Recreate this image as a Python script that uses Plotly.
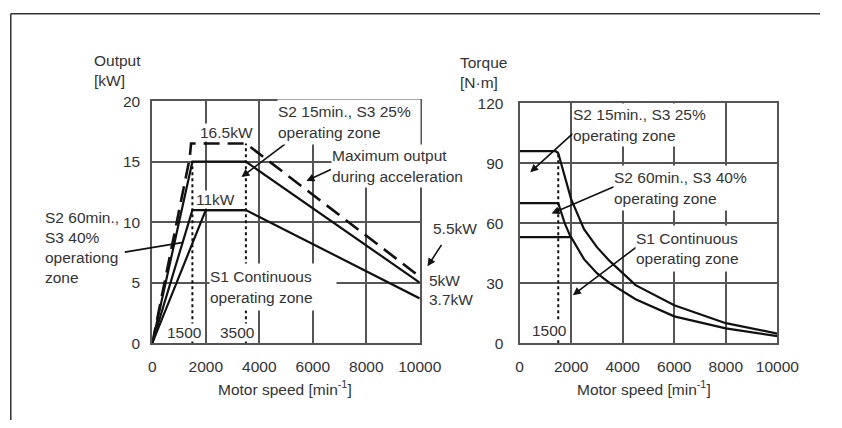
import plotly.graph_objects as go

# ---------------- data ----------------
# Left: output [kW] vs motor speed [min^-1]
max_speed = [0, 1400, 1450, 3500, 10000]
max_output = [0, 15.3, 16.5, 16.5, 5.5]          # Maximum output during acceleration (dashed)
s2_15_speed = [0, 1500, 3500, 10000]
s2_15_output = [0, 15, 15, 5]                    # S2 15min, S3 25%
s2_60_speed = [0, 1500, 3500]
s2_60_output = [0, 11, 11]                       # S2 60min, S3 40%
s1_speed = [0, 2000, 3500, 10000]
s1_output = [0, 11, 11, 3.7]                     # S1 continuous
mark1_speed = [1500, 1500]
mark1_output = [0, 15]
mark2_speed = [3500, 3500]
mark2_output = [0, 16.5]

# Right: torque [N·m] vs motor speed
t15_speed = [0, 1400, 1500, 2000, 2500, 3000, 3500, 4500, 6000, 8000, 10000]
t15_torque = [96, 96, 95, 72, 57, 48, 41, 29, 19, 10, 4.8]
t60_speed = [0, 1500, 1750, 2000]
t60_torque = [70, 70, 60, 52.5]
ts1_speed = [0, 2000, 2500, 3000, 3500, 4500, 6000, 8000, 10000]
ts1_torque = [53, 53, 42, 35, 30, 22, 13.4, 7.4, 3.5]
tmark_speed = [1500, 1500]
tmark_torque = [0, 96]

x_ticks = [0, 2000, 4000, 6000, 8000, 10000]
x_tick_labels = ["0", "2000", "4000", "6000", "8000", "10000"]
y_ticks_left = [0, 5, 10, 15, 20]
y_ticks_right = [0, 30, 60, 90, 120]

# ---------------- figure ----------------
W, H = 842, 428
def px(x): return x / W
def py(y): return 1 - y / H

FONT = "Liberation Sans, Arial, sans-serif"
FS = 15.5
TXT = "#333333"
LINE = "#111111"
GRID = "#555555"

fig = go.Figure()

def add(x, y, xa, ya, dash="solid", width=2.2):
    fig.add_trace(go.Scatter(x=x, y=y, mode="lines", xaxis=xa, yaxis=ya,
                             line=dict(color=LINE, width=width, dash=dash),
                             hoverinfo="skip", showlegend=False))

add(max_speed, max_output, "x", "y", dash="16px,8px", width=2.6)
add(s2_15_speed, s2_15_output, "x", "y")
add(s2_60_speed, s2_60_output, "x", "y")
add(s1_speed, s1_output, "x", "y")
add(mark1_speed, mark1_output, "x", "y", dash="dot", width=2)
add(mark2_speed, mark2_output, "x", "y", dash="dot", width=2)

add(t15_speed, t15_torque, "x2", "y2")
add(t60_speed, t60_torque, "x2", "y2")
add(ts1_speed, ts1_torque, "x2", "y2")
add(tmark_speed, tmark_torque, "x2", "y2", dash="dot", width=2)

axis_common = dict(showline=True, mirror=True, linecolor=GRID, linewidth=2,
                   showgrid=True, gridcolor=GRID, gridwidth=1.8, zeroline=False,
                   ticks="outside", tickcolor="rgba(0,0,0,0)",
                   tickfont=dict(family=FONT, size=FS, color=TXT), fixedrange=True)

fig.update_layout(
    width=W, height=H, margin=dict(l=0, r=0, t=0, b=0),
    paper_bgcolor="white", plot_bgcolor="white", showlegend=False,
    xaxis=dict(domain=[px(153), px(429)], range=[0, 10000], tickvals=x_ticks,
               ticktext=x_tick_labels, ticklen=8, anchor="y", **axis_common),
    yaxis=dict(domain=[py(348), py(96)], range=[0, 20], tickvals=y_ticks_left,
               ticklen=7, anchor="x", **axis_common),
    xaxis2=dict(domain=[px(532), px(798)], range=[0, 10000], tickvals=x_ticks,
                ticktext=x_tick_labels, ticklen=8, anchor="y2", **axis_common),
    yaxis2=dict(domain=[py(348), py(98)], range=[0, 120], tickvals=y_ticks_right,
                ticklen=11, anchor="x2", **axis_common),
)

# outer frame (top and left edges visible)
fig.add_shape(type="line", xref="paper", yref="paper", x0=px(7), x1=1, y0=py(5), y1=py(5),
              line=dict(color="#333333", width=1.5))
fig.add_shape(type="line", xref="paper", yref="paper", x0=px(7), x1=px(7), y0=0, y1=py(5),
              line=dict(color="#333333", width=1.5))

def text(x, y, s, anchor="left", bg="white", w=None, h=None):
    kw = {}
    if w is not None:
        kw["width"] = w
    if h is not None:
        kw["height"] = h
    fig.add_annotation(x=px(x), y=py(y), xref="paper", yref="paper", text=s, showarrow=False,
                       xanchor=anchor, yanchor="middle", align="left", valign="middle",
                       font=dict(family=FONT, size=FS, color=TXT),
                       bgcolor=bg, borderpad=0, **kw)

def arrow(hx, hy, tx, ty, head=2):
    fig.add_annotation(x=px(hx), y=py(hy), xref="paper", yref="paper", text="",
                       showarrow=True, ax=tx - hx, ay=ty - hy, arrowhead=head,
                       arrowsize=1, arrowwidth=1.6, arrowcolor=LINE)

# arrows (left)
arrow(245, 175, 290, 141)
arrow(312, 179, 338, 167)
arrow(185, 243, 125, 253, head=0)
arrow(437, 268, 452, 245)
# arrows (right)
arrow(543, 170, 587, 130)
arrow(565, 213, 630, 185)
arrow(587, 298, 653, 248)

# texts (left)
text(92, 64, "Output<br>[kW]", bg="rgba(0,0,0,0)")
text(201, 129, "16.5kW")
text(197, 198, "11kW")
text(282, 118, "S2 15min., S3 25%<br>operating zone", w=142, h=44)
text(337, 163, "Maximum output<br>during acceleration", w=145, h=42)
text(41, 248, "S2 60min.,<br>S3 40%<br>operationg<br>zone", bg="rgba(0,0,0,0)")
text(212, 289, "S1 Continuous<br>operating zone", w=126, h=46)
text(167, 337, "1500")
text(222, 337, "3500")
text(442, 229, "5.5kW")
text(437, 283, "5kW")
text(437, 302, "3.7kW")
text(290, 395, "Motor speed [min<sup>-1</sup>]", anchor="center")
# texts (right)
text(469, 66, "Torque<br>[N·m]", bg="rgba(0,0,0,0)")
text(586, 121, "S2 15min., S3 25%<br>operating zone", w=142, h=42)
text(628, 186, "S2 60min., S3 40%<br>operating zone", w=142, h=44)
text(651, 249, "S1 Continuous<br>operating zone", w=138, h=45)
text(544, 335, "1500")
text(660, 395, "Motor speed [min<sup>-1</sup>]", anchor="center")

fig.write_html("out.html", config={"displayModeBar": False},
               post_script="document.body.style.margin='0';document.body.style.overflow='hidden';")
